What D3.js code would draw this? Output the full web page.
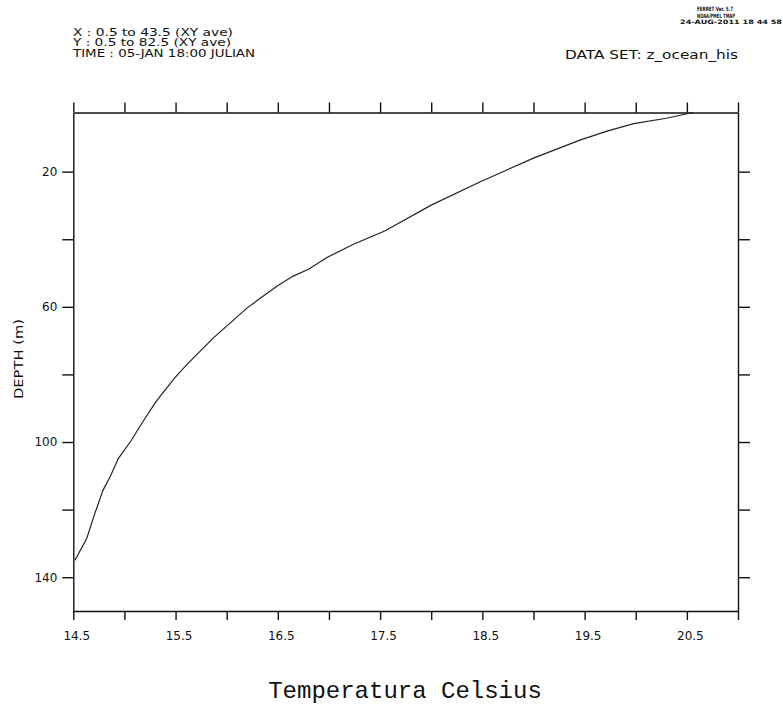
<!DOCTYPE html>
<style>
body { margin: 0; background: #fff; }
svg { font-family: "DejaVu Sans", sans-serif; }
.axis .domain { stroke: #111; stroke-width: 1.4; }
.axis line { stroke: #111; stroke-width: 1.4; }
.axis text { font-size: 12px; fill: #111; font-family: "DejaVu Sans", sans-serif; }
</style>
<svg width="783" height="707"></svg>
<script src="https://d3js.org/d3.v7.min.js"></script>
<script>

// depth levels (m) and the averaged temperature
var depth = [2.5, 4.2, 5.8, 8, 10.6, 16, 23, 29.9, 37.5, 41.5, 45.4, 48.9, 50.9, 53.9,
             60.3, 65.7, 69.2, 77.1, 81.1, 88, 95.4, 99.4, 104.9, 110.3, 114.3, 121.2, 128.6, 135];
var temp  = [20.56, 20.30, 19.98, 19.72, 19.46, 19.0, 18.48, 18.0, 17.55, 17.24, 16.98, 16.80, 16.65, 16.49,
             16.20, 16.0, 15.87, 15.61, 15.49, 15.31, 15.15, 15.07, 14.94, 14.86, 14.79, 14.71, 14.63, 14.516];

var xTicks = d3.range(14.5, 21.01, 0.5);
var xLabels = [14.5, 15.5, 16.5, 17.5, 18.5, 19.5, 20.5];
var yTicks = [20, 40, 60, 80, 100, 120, 140];
var yLabels = [20, 60, 100, 140];

var headerLeft = ["X : 0.5 to 43.5 (XY ave)", "Y : 0.5 to 82.5 (XY ave)", "TIME : 05-JAN 18:00 JULIAN"];
var headerWidth = [160, 158, 182];
var stamp = ["FERRET Ver. 5.7", "NOAA/PMEL TMAP", "24-AUG-2011 18 44 58"];
var stampWidth = [36, 38, 102];

var svg = d3.select("svg"),
    pLeft = 73.3, pRight = 738, pTop = 112.5, pBottom = 611;

var x = d3.scaleLinear().domain([14.5, 21]).range([pLeft, pRight]);
var y = d3.scaleLinear().domain([2.5, 150]).range([pTop, pBottom]);

// axes on all four sides
svg.append("g").attr("class", "axis")
    .attr("transform", "translate(0," + pTop + ")")
    .call(d3.axisTop(x).tickValues(xTicks).tickSize(10).tickSizeOuter(0).tickFormat(""));

var xb = svg.append("g").attr("class", "axis")
    .attr("transform", "translate(0," + pBottom + ")")
    .call(d3.axisBottom(x).tickValues(xTicks).tickSize(9).tickSizeOuter(0)
      .tickFormat(function(d) { return xLabels.indexOf(d) >= 0 ? d3.format(".1f")(d) : ""; }));
xb.selectAll("text").attr("y", 20).attr("dx", 3);

svg.append("g").attr("class", "axis")
    .attr("transform", "translate(" + pLeft + ",0)")
    .call(d3.axisLeft(y).tickValues(yTicks).tickSize(11).tickSizeOuter(0).tickPadding(5)
      .tickFormat(function(d) { return yLabels.indexOf(d) >= 0 ? d : ""; }));

svg.append("g").attr("class", "axis")
    .attr("transform", "translate(" + pRight + ",0)")
    .call(d3.axisRight(y).tickValues(yTicks).tickSize(12).tickSizeOuter(0).tickFormat(""));

// the profile
var line = d3.line()
    .x(function(d, i) { return x(temp[i]); })
    .y(function(d) { return y(d); });

svg.append("path")
    .datum(depth)
    .attr("fill", "none")
    .attr("stroke", "#222")
    .attr("stroke-width", 1.2)
    .attr("d", line);

// texts
svg.append("g").attr("font-size", 10.5).attr("fill", "#111")
  .selectAll("text").data(headerLeft).enter().append("text")
    .attr("x", 73)
    .attr("y", function(d, i) { return 35.5 + i * 10.8; })
    .attr("textLength", function(d, i) { return headerWidth[i]; })
    .attr("lengthAdjust", "spacingAndGlyphs")
    .text(function(d) { return d; });

svg.append("text")
    .attr("x", 565).attr("y", 59)
    .attr("font-size", 12).attr("fill", "#111")
    .attr("textLength", 173).attr("lengthAdjust", "spacingAndGlyphs")
    .text("DATA SET: z_ocean_his");

svg.append("g").attr("font-size", 6).attr("font-weight", "bold").attr("fill", "#111")
  .selectAll("text").data(stamp).enter().append("text")
    .attr("x", function(d, i) { return i < 2 ? 697 : 680; })
    .attr("y", function(d, i) { return 11 + i * 6.5; })
    .attr("textLength", function(d, i) { return stampWidth[i]; })
    .attr("lengthAdjust", "spacingAndGlyphs")
    .text(function(d) { return d; });

svg.append("text")
    .attr("transform", "translate(23,359) rotate(-90)")
    .attr("text-anchor", "middle")
    .attr("font-size", 11.5).attr("fill", "#111")
    .attr("textLength", 80).attr("lengthAdjust", "spacingAndGlyphs")
    .text("DEPTH (m)");

svg.append("text")
    .attr("x", 405).attr("y", 698)
    .attr("text-anchor", "middle")
    .attr("font-family", "Liberation Mono, monospace")
    .attr("font-size", 24).attr("fill", "#111")
    .text("Temperatura Celsius");

</script>
